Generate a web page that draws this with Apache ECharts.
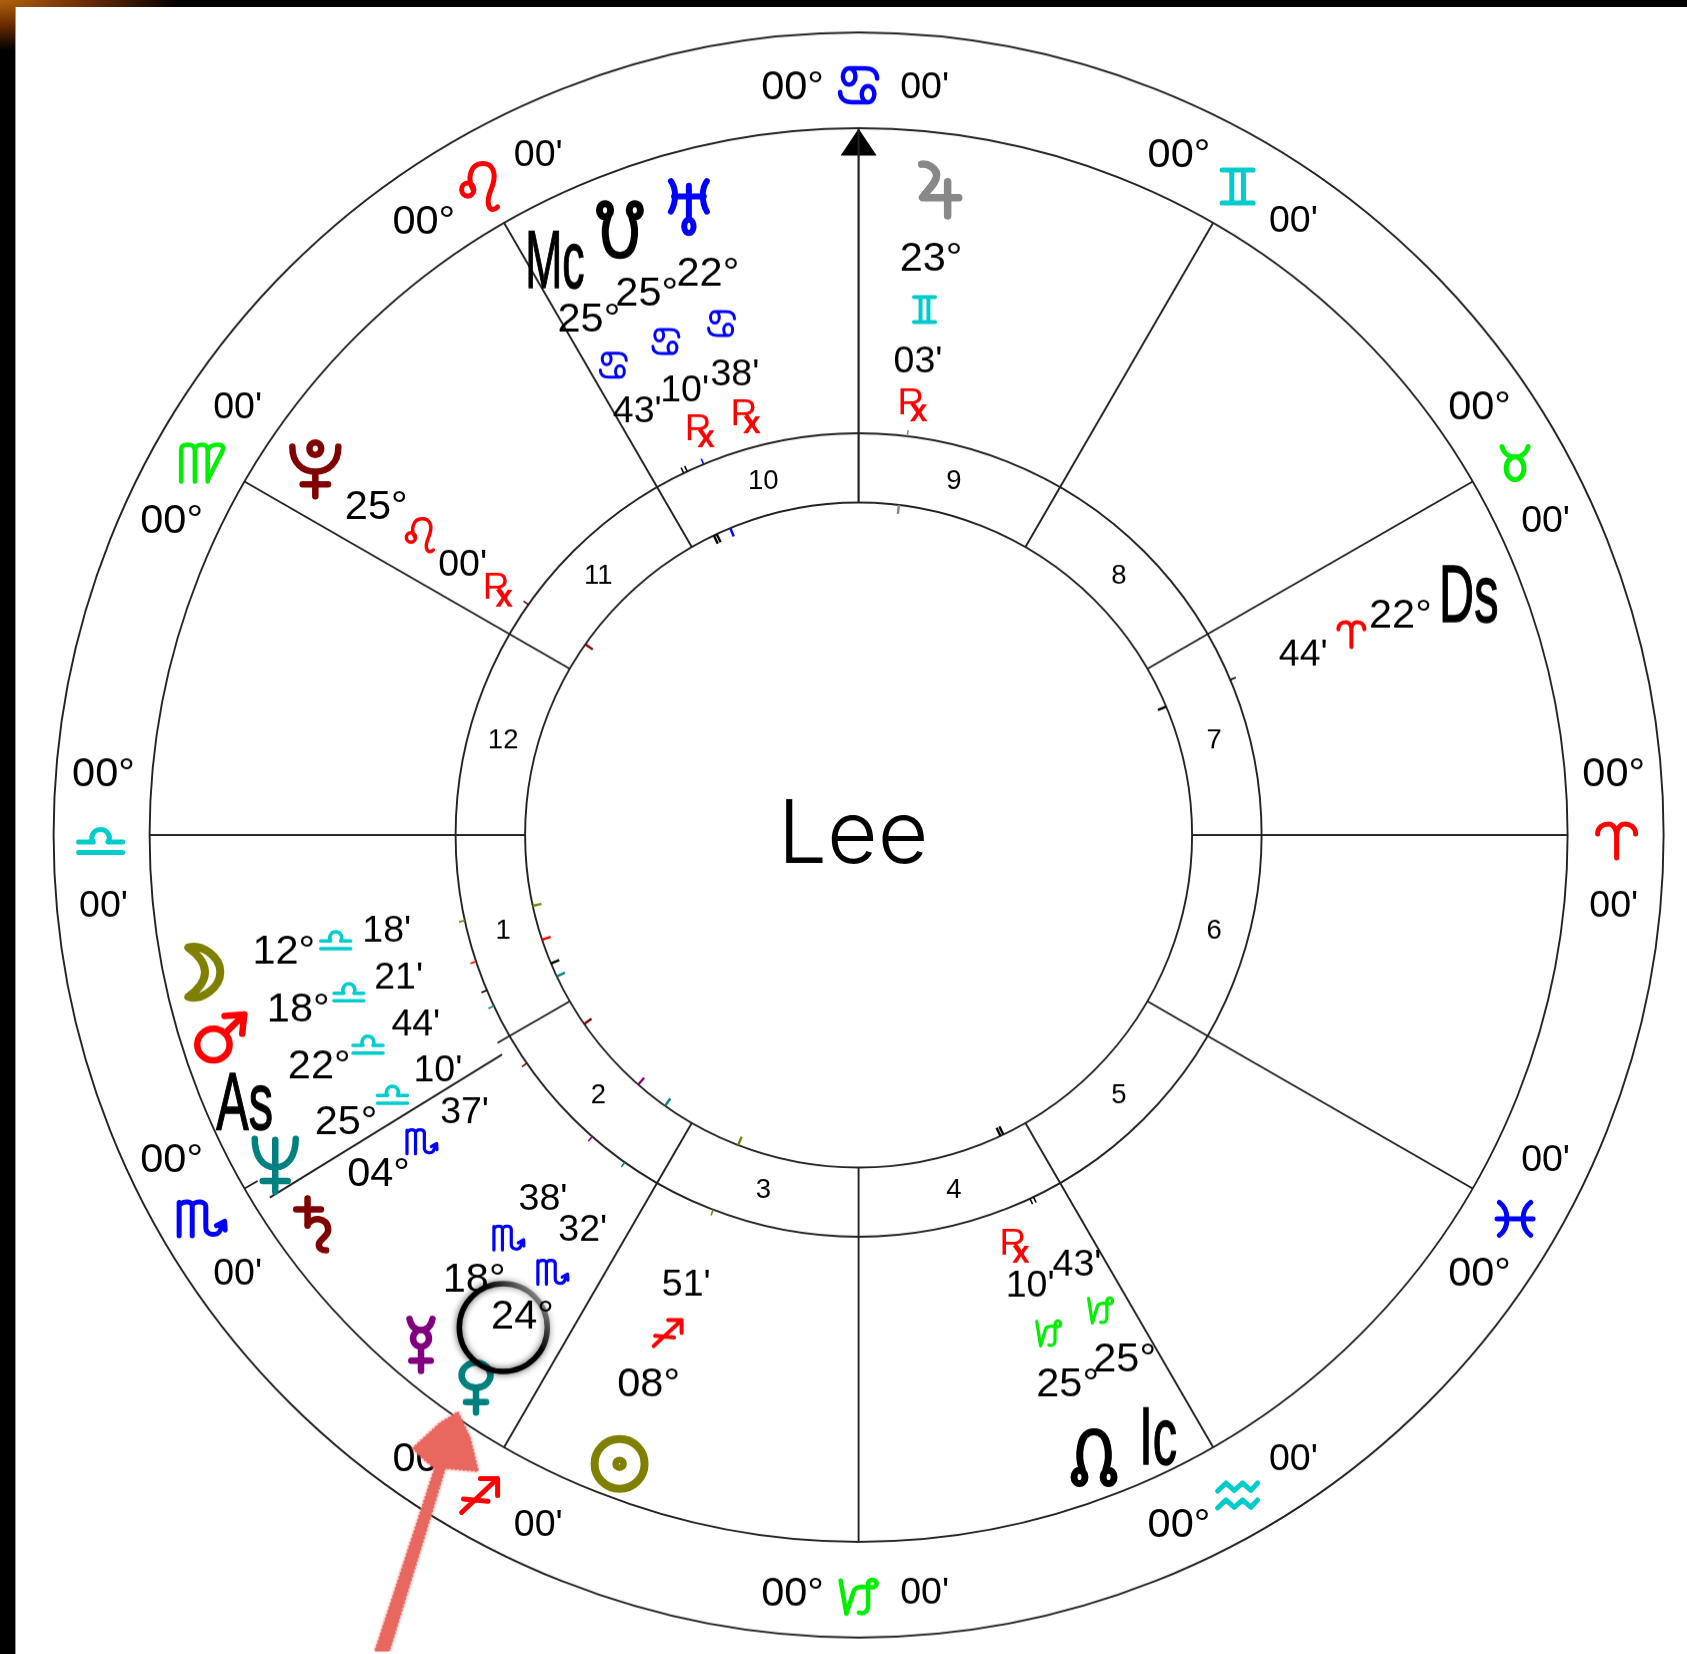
<!DOCTYPE html>
<html>
<head>
<meta charset="utf-8">
<title>Lee</title>
<style>
html,body{margin:0;height:100%;background:#000;overflow:hidden}
#corner{position:absolute;left:0;top:0;width:190px;height:60px;background:radial-gradient(ellipse 180px 50px at 0 0,#b0620c 0%,#6a2a02 50%,#000 100%)}
#paper{position:absolute;left:16px;top:7px;right:0;bottom:0;background:#fff;box-shadow:-1px 0 0 #999}
/* the wheel in the picture is very slightly squashed */
#main{position:absolute;left:0;top:0;width:1687px;height:1654px;transform:scaleY(0.997);transform-origin:0 835px}
</style>
</head>
<body>
<div id="corner"></div>
<div id="paper"></div>
<div id="main"></div>
<script src="https://cdn.jsdelivr.net/npm/echarts@6/dist/echarts.min.js"></script>
<script>
    // zodiac ring, one sign every 30 degrees starting at the right, going anticlockwise
    const signNames = ['aries','taurus','gemini','cancer','leo','virgo','libra','scorpio','sagittarius','capricorn','aquarius','pisces'];
    const signAngles = [0,30,60,90,120,150,180,210,240,270,300,330];
    const signDegreeText = '00°';
    const signMinuteText = "00'";

    // houses
    const houseNumbers = ['1','2','3','4','5','6','7','8','9','10','11','12'];
    const houseAngles = [195,225,255,285,315,345,15,45,75,105,135,165];
    const cuspAngles = [0,30,60,90,120,150,180,240,270,300,330];

    // chart points
    const pointNames = ['Moon','Mars','As','Neptune','Saturn','Mercury','Venus','Sun','NNode','Ic','Ds','Uranus','SNode','Mc','Pluto','Jupiter'];
    const pointSigns = ['libra','libra','libra','libra','scorpio','scorpio','scorpio','sagittarius','capricorn','capricorn','aries','cancer','cancer','cancer','leo','gemini'];
    const pointDegrees = ['12','18','22','25','04','18','24','08','25','25','22','22','25','25','25','23'];
    const pointMinutes = ['18','21','44','10','37','38','32','51','10','43','44','38','10','43','00','03'];
    const pointRetro = [0,0,0,0,0,0,0,0,1,0,0,1,1,0,1,1];
    const pointLongitudes = [192.3,198.35,202.73,205.17,214.62,228.63,234.53,248.85,295.17,295.72,22.73,112.63,115.17,115.72,145,83.05];
    const pointShownAngles = [191.2,197,203,209,215,229,235,249,290.9,297,22.4,104.9,111.2,117.4,145.4,82.9];

    const centerName = 'Lee';

    /* ---- layout and styles ---- */
    const rInner = 333.5, rHouse = 403, rZodiac = 709, rOuter = 805;
    const rGlyph = 660, rGlyphLow = 667, rDeg = 586, rSign = 533, rMin = 481, rRx = 438, rRing = 758, rHouseNo = 368;
    const degDrop = 4, minDrop = 3, signDrop = 2, rxDrop = 5, ringDrop = 6, glyphDrop = 8;
    const labelDrop = {Mc:15,Ds:15,As:12,Ic:21};
    const lineColor = '#222222';
    const fontName = '"Liberation Sans", Arial, sans-serif';
    const degSize = 41.5, minSize = 37.5;

    const signColors = {aries:'#ff0000',leo:'#ff0000',sagittarius:'#ff0000',taurus:'#00ee00',virgo:'#00ee00',capricorn:'#00ee00',
        gemini:'#00cccc',libra:'#00cccc',aquarius:'#00cccc',cancer:'#0000ff',scorpio:'#0000ff',pisces:'#0000ff'};
    const pointColors = {Moon:'#808000',Mars:'#ff0000',As:'#000',Neptune:'#008080',Saturn:'#800000',Mercury:'#800080',Venus:'#008080',Sun:'#808000',
        NNode:'#000',Ic:'#000',Ds:'#000',Uranus:'#0000ff',SNode:'#000',Mc:'#000',Pluto:'#800000',Jupiter:'#888888'};

    const glyphPaths = {
        aries:'M4 30C4 10 18 2 30 2C42 2 50 16 50 34L50 98M50 34C50 16 58 2 70 2C82 2 96 10 96 30',
        taurus:'M6 2C12 22 30 32 50 32C70 32 88 22 94 2M50 32A30 33 0 1 0 50 98A30 33 0 1 0 50 32Z',
        gemini:'M2 6H98M2 94H98M32 6V94M68 6V94',
        cancer:'M42 26A16 22 0 1 1 10 26A16 22 0 1 1 42 26ZM26 4H66C86 4 97 14 97 32M90 74A16 22 0 1 1 58 74A16 22 0 1 1 90 74ZM74 96H34C14 96 3 86 3 68',
        leo:'M36 66C20 40 28 4 60 3C88 2 96 26 88 52C82 72 72 84 76 102C79 116 90 118 100 108M38 66A16 16 0 1 1 6 66A16 16 0 1 1 38 66Z',
        virgo:'M6 100V16C6 6 12 3 20 3C30 3 36 8 36 18V100M36 18C36 8 44 3 52 3C62 3 64 10 64 20V100M64 20C66 8 76 3 86 3C98 3 100 10 96 20L64 96',
        libra:'M2 50H34C26 32 34 4 50 4C66 4 74 32 66 50H98M2 88H98',
        scorpio:'M3 100V8M3 18C8 4 30 2 30 18V100M30 18C32 4 56 2 58 18V78C58 100 84 102 88 84L97 62M80 72L97 60L98 84',
        sagittarius:'M3 97L97 3M52 3H97V50M8 60L72 66',
        capricorn:'M3 3L18 97L38 30C46 20 56 20 72 22M74 22V76C74 92 64 98 50 94M96 12A11 11 0 1 1 74 12A11 11 0 1 1 96 12Z',
        aquarius:'M2 38L22 14L42 36L62 14L82 36L98 14M2 88L22 64L42 86L62 64L82 86L98 64',
        pisces:'M10 2C36 24 36 76 10 98M90 2C64 24 64 76 90 98M4 50H96',
        Sun:'M96 50A46 46 0 1 1 4 50A46 46 0 1 1 96 50ZM56 50A6 6 0 1 1 44 50A6 6 0 1 1 56 50Z',
        Moon:'M4 4C40 -4 96 20 96 50C96 80 40 104 4 96C30 84 52 70 52 50C52 30 30 16 4 4Z',
        Mars:'M68 64A32 32 0 1 1 4 64A32 32 0 1 1 68 64ZM60 40L97 3M58 6L97 3L93 42',
        Mercury:'M4 4C8 22 18 28 30 28C42 28 52 22 56 4M48 46A18 18 0 1 1 12 46A18 18 0 1 1 48 46ZM30 64V116M8 94H52',
        Venus:'M56 30A26 26 0 1 1 4 30A26 26 0 1 1 56 30ZM30 56V108M12 86H48',
        Jupiter:'M4 4C20 2 42 14 42 30C42 48 24 60 6 84H98M70 46V128',
        Saturn:'M26 2V52M4 22H52M26 50C36 36 64 36 66 58C68 72 50 76 48 86C47 94 54 98 62 98',
        Uranus:'M4 2C18 14 18 40 4 56M96 2C82 14 82 40 96 56M12 29H88M50 10V70M62 82A12 12 0 1 1 38 82A12 12 0 1 1 62 82Z',
        Neptune:'M4 2C4 40 22 64 50 64C78 64 96 40 96 2M50 4V118M22 94H78',
        Pluto:'M3 18C3 50 24 66 50 66C76 66 97 50 97 18M50 66V113M24 90H76M62 22A12 12 0 1 1 38 22A12 12 0 1 1 62 22Z',
        SNode:'M24 28C14 50 16 96 50 96C84 96 86 50 76 28M30 14A12 12 0 1 1 6 14A12 12 0 1 1 30 14ZM94 14A12 12 0 1 1 70 14A12 12 0 1 1 94 14Z',
        NNode:'M24 72C14 50 16 4 50 4C84 4 86 50 76 72M30 86A12 12 0 1 1 6 86A12 12 0 1 1 30 86ZM94 86A12 12 0 1 1 70 86A12 12 0 1 1 94 86Z'
    };
    // w, h, stroke
    const ringGlyphSize = {aries:[38,34,5],taurus:[26,33,5],gemini:[31,33,5],cancer:[37,34,4.5],leo:[36,46,5],virgo:[42,37,4.5],libra:[44,23,5],scorpio:[46,34,5],sagittarius:[36,34,5],capricorn:[36,34,4.5],aquarius:[40,25,5],pisces:[36,33,5]};
    const smallGlyphSize = {aries:[26,25,4],taurus:[20,24,4],gemini:[21,25,4],cancer:[26,24,3],leo:[27,33,3.5],virgo:[30,28,4],libra:[30,17,3.5],scorpio:[30,24,3.2],sagittarius:[28,26,4],capricorn:[24,25,3.2],aquarius:[30,18,4],pisces:[26,24,4]};
    const planetGlyphSize = {Moon:[32,51,8],Mars:[47,46,6.5],Neptune:[41,53,6.5],Saturn:[32,52,6.5],Mercury:[23,52,6.5],Venus:[29,50,6.5],Sun:[50,50,8],NNode:[40,52,7],Uranus:[36,52,6],SNode:[41,52,7],Pluto:[46,54,6.5],Jupiter:[37,52,7.5]};

    // every bit of text is one row here: radius, angle and how it is set
    const textRows = [];
    function addText(r, a, text, size, color, drop, more){
        textRows.push(Object.assign({r:r,a:a,text:text,size:size,color:color,drop:drop,dx:0},more||{}));
    }
    // every symbol is one row here
    const glyphRows = [];
    function addGlyph(r, a, key, size, color, drop){
        glyphRows.push({r:r,a:a,key:key,size:size,color:color,drop:drop});
    }

    signNames.forEach((name,i)=>{
        const a = signAngles[i];
        const side = a < 180 ? 1 : -1;
        addText(rRing, a + 5*side, signDegreeText, degSize, '#000', ringDrop);
        addText(rRing, a - 5*side, signMinuteText, minSize, '#000', ringDrop);
        addGlyph(rRing, a, name, ringGlyphSize[name], signColors[name], ringDrop);
    });
    houseNumbers.forEach((n,i)=>{
        addText(rHouseNo, houseAngles[i], n, 27.5, '#000', 1);
    });
    pointNames.forEach((name,i)=>{
        const a = pointShownAngles[i];
        const rg = a >= 180 && a < 270 ? rGlyphLow : rGlyph;
        if(planetGlyphSize[name]){
            addGlyph(rg, a, name, planetGlyphSize[name], pointColors[name], glyphDrop);
        }else{
            addText(rg, a, name, 81, '#000', labelDrop[name], {scaleX:name==='Mc'?0.55:0.6, stroke:'#000', lineWidth:1.4});
        }
        addText(rDeg, a, pointDegrees[i]+'°', degSize, '#000', degDrop);
        addGlyph(rSign, a, pointSigns[i], smallGlyphSize[pointSigns[i]], signColors[pointSigns[i]], signDrop);
        addText(rMin, a, pointMinutes[i]+"'", minSize, '#000', minDrop);
        if(pointRetro[i]){
            addText(rRx, a, 'R', 37, '#ff0000', rxDrop-3, {dx:-2});
            addText(rRx, a, 'x', 32, '#ff0000', rxDrop+6, {dx:6, weight:'bold'});
        }
    });
    addText(0, 0, centerName, 87.5, '#000', 2, {family:'Inter, Lato, sans-serif', weight:300, dx:-5.5});

    function segmentSeries(angle, r0, r1, width){
        return {
            type:'line', coordinateSystem:'polar', polarIndex:0,
            data:[[r0,angle],[r1,angle]],
            symbol:'none', silent:true, animation:false, clip:false,
            lineStyle:{color:lineColor,width:width||1.9}
        };
    }

    const chart = echarts.init(document.getElementById('main'), null, {renderer:'canvas'});
    const series = [];
    cuspAngles.forEach(a=>series.push(segmentSeries(a, rInner, rZodiac, a===90?2.2:1.9)));
    // the ascendant cusp is broken in the picture and its middle piece sits a little off
    series.push(segmentSeries(210, rInner, 417));
    series.push(segmentSeries(211.7, 419, 692));
    series.push(segmentSeries(210, 694, rZodiac));

    // midheaven arrow head
    series.push({
        type:'scatter', coordinateSystem:'polar', data:[[695,90]], symbol:'triangle', symbolSize:[36,27],
        itemStyle:{color:'#000',opacity:1}, silent:true, animation:false
    });

    // longitude ticks on the two house circles
    series.push({
        type:'custom', coordinateSystem:'polar', silent:true, animation:false, clip:false,
        data:pointLongitudes.map(l=>[rInner,l]),
        renderItem(params, api){
            const l = pointLongitudes[params.dataIndex];
            const color = pointColors[pointNames[params.dataIndex]];
            const a = api.coord([rInner-9,l]), b = api.coord([rInner,l]);
            const c = api.coord([rHouse,l]), d = api.coord([rHouse+6,l]);
            return {type:'group',children:[
                {type:'line',shape:{x1:a[0],y1:a[1],x2:b[0],y2:b[1]},style:{stroke:color,lineWidth:2.4}},
                {type:'line',shape:{x1:c[0],y1:c[1],x2:d[0],y2:d[1]},style:{stroke:color,lineWidth:1.6}}
            ]};
        }
    });

    // symbols
    series.push({
        type:'custom', coordinateSystem:'polar', silent:true, animation:false, clip:false, z:5,
        data:glyphRows.map(g=>[g.r,g.a]),
        renderItem(params, api){
            const g = glyphRows[params.dataIndex];
            const p = api.coord([g.r,g.a]);
            const w = g.size[0], h = g.size[1];
            return {
                type:'path',
                shape:{pathData:glyphPaths[g.key],layout:'cover',x:p[0]-w/2,y:p[1]+g.drop-h/2,width:w,height:h},
                style:{fill:'none',stroke:g.color,lineWidth:g.size[2],lineCap:'round',lineJoin:'round'}
            };
        }
    });

    // text
    series.push({
        type:'custom', coordinateSystem:'polar', silent:true, animation:false, clip:false, z:6,
        data:textRows.map(t=>[t.r,t.a]),
        renderItem(params, api){
            const t = textRows[params.dataIndex];
            const p = api.coord([t.r,t.a]);
            return {
                type:'text', x:p[0]+t.dx, y:p[1]+t.drop, scaleX:t.scaleX||1,
                style:{text:t.text,fill:t.color,fontSize:t.size,fontFamily:t.family||fontName,fontWeight:t.weight||'normal',align:'center',verticalAlign:'middle',
                    stroke:t.stroke||null,lineWidth:t.lineWidth||0}
            };
        }
    });

    chart.setOption({
        animation:false,
        backgroundColor:'transparent',
        polar:{center:[858.6,835],radius:rOuter},
        angleAxis:{type:'value',min:0,max:360,startAngle:0,clockwise:false,axisLine:{show:false},axisTick:{show:false},axisLabel:{show:false},splitLine:{show:false}},
        radiusAxis:{type:'value',min:0,max:rOuter,axisLine:{show:false},axisLabel:{show:false},
            axisTick:{show:false,customValues:[rInner,rHouse,rZodiac,rOuter]},
            splitLine:{show:true,lineStyle:{color:lineColor,width:1.9}}},
        series:series,
        // the pen marks someone left on top of the chart
        graphic:[
            {type:'circle',z:50,shape:{cx:503.3,cy:1329,r:44},style:{fill:'none',lineWidth:5.5,shadowBlur:7,shadowColor:'rgba(0,0,0,0.7)',
                stroke:new echarts.graphic.LinearGradient(0.85,0,0.5,0.3,[{offset:0,color:'rgba(0,0,0,0.25)'},{offset:1,color:'#000'}])}},
            {type:'polygon',z:60,shape:{points:[[458,1414],[470,1440],[478,1473],[445,1470],[433,1510],[389,1654],[375,1654],[422,1510],[435,1470],[425,1462],[413,1450],[440,1425]]},
                style:{fill:'#e8675f',stroke:'#e8675f',lineWidth:2,lineDash:[1.5,2.5],shadowBlur:3,shadowColor:'#e8675f'}}
        ]
    });
</script>
</body>
</html>
